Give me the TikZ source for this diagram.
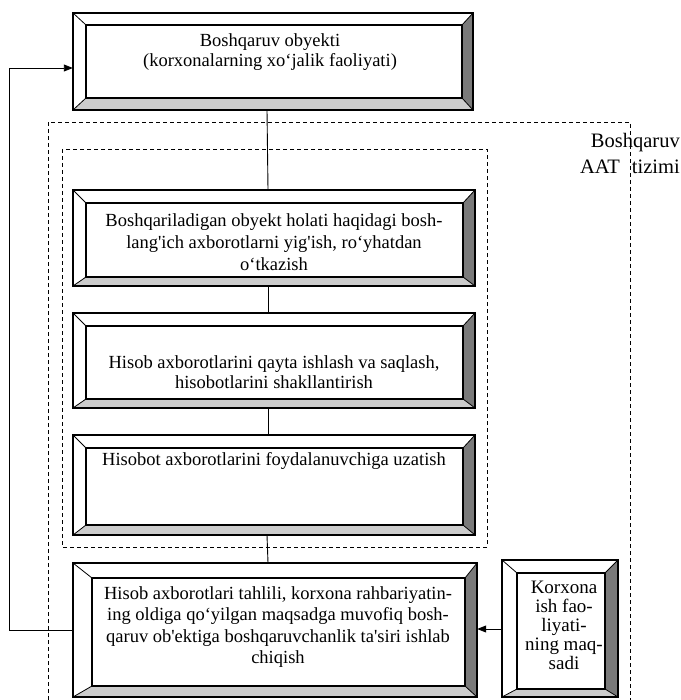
\documentclass[tikz,border=0pt]{standalone}
\usepackage{fontspec}
\setmainfont{Liberation Serif}
\usetikzlibrary{arrows.meta}
\tikzset{
  bevR/.style={fill=black!52},
  bevB/.style={fill=black!20},
  boxline/.style={line width=1.1pt},
  conn/.style={line width=0.9pt},
  arr/.style={line width=0.9pt,-{Triangle[length=9pt,width=7pt]}},
  frame/.style={dash pattern=on 4pt off 3pt, line width=0.8pt},
  btext/.style={align=center, inner sep=0pt, font=\fontsize{18.5}{22}\selectfont},
}
% #1 name, #2-#5 outer x1 y1 x2 y2, #6-#9 inner x1 y1 x2 y2
\newcommand\bevelbox[9]{%
  \node[draw=none, inner sep=0pt, minimum width={(#4-#2)*1pt}, minimum height={(#5-#3)*1pt}]
    (#1) at ({(#2+#4)/2},{(#3+#5)/2}) {};
  \fill[white] (#2,#3) rectangle (#4,#5);
  \fill[bevR] (#4,#3) -- (#4,#5) -- (#8,#9) -- (#8,#7) -- cycle;
  \fill[bevB] (#2,#5) -- (#4,#5) -- (#8,#9) -- (#6,#9) -- cycle;
  \draw[boxline] (#2,#3) rectangle (#4,#5);
  \draw[boxline] (#6,#7) rectangle (#8,#9);
  \draw[line width=0.8pt] (#2,#3) -- (#6,#7) (#4,#3) -- (#8,#7) (#2,#5) -- (#6,#9) (#4,#5) -- (#8,#9);
}
\begin{document}
\begin{tikzpicture}[x=1pt,y=-1pt]
\useasboundingbox (0,0) rectangle (680,700);

% dashed frames
\draw[frame] (48,700) -- (48,122) -- (630,122) -- (630,700);
\draw[frame] (62,149) rectangle (487,547);

% boxes
\bevelbox{b1}{73}{13}{473}{110}{86}{25}{462}{98}
\bevelbox{b2}{73}{190}{475}{286}{86}{203}{463}{277}
\bevelbox{b3}{73}{313}{475}{408}{86}{326}{463}{399}
\bevelbox{b4}{73}{435}{475}{535}{86}{448}{463}{525}
\bevelbox{b5}{73}{563}{477}{697}{92}{578}{465}{686}
\bevelbox{rb}{502}{560}{618}{697}{517}{573}{605}{689}

% texts
\node[btext, font=\fontsize{18.5}{20.5}\selectfont] (t1) at (270,52) {Boshqaruv obyekti\\(korxonalarning xo‘jalik faoliyati)};
\node[btext] (t2) at (274,242) {Boshqariladigan obyekt holati haqidagi bosh-\\lang\textquotesingle ich axborotlarni yig\textquotesingle ish, ro‘yhatdan\\o‘tkazish};
\node[btext, font=\fontsize{18.5}{20.5}\selectfont] (t3) at (274,372) {Hisob axborotlarini qayta ishlash va saqlash,\\hisobotlarini shakllantirish};
\node[btext] (t4) at (274,461) {Hisobot axborotlarini foydalanuvchiga uzatish};
\node[btext, font=\fontsize{18.5}{21.5}\selectfont] (t5) at (278,627) {Hisob axborotlari tahlili, korxona rahbariyatin-\\ing oldiga qo‘yilgan maqsadga muvofiq bosh-\\qaruv ob\textquotesingle ektiga boshqaruvchanlik ta\textquotesingle siri ishlab\\chiqish};
\node[btext, font=\fontsize{19}{19}\selectfont] (t6) at (564,625) {Korxona\\ish fao-\\liyati-\\ning maq-\\sadi};
\node[align=right, inner sep=0pt, anchor=north east, font=\fontsize{20.5}{26}\selectfont] (lbl) at (680,133) {Boshqaruv\\AAT\hspace{12pt}tizimi};

% connectors
\draw[conn] ([xshift=-6pt]b1.south) -- ([xshift=-6pt]b2.north);
\draw[conn] ([xshift=-6pt]b2.south) -- ([xshift=-6pt]b3.north);
\draw[conn] ([xshift=-6pt]b3.south) -- ([xshift=-6pt]b4.north);
\draw[conn] ([xshift=-7pt]b4.south) -- ([xshift=-7pt]b5.north);

\coordinate (fa) at (9,630);
\coordinate (fb) at (9,68);
\draw[arr] (b5.west |- fa) -- (fa) -- (fb) -- (b1.west |- fb);

\coordinate (ra) at (490,629);
\draw[arr] (rb.west |- ra) -- (b5.east |- ra);
\end{tikzpicture}
\end{document}
